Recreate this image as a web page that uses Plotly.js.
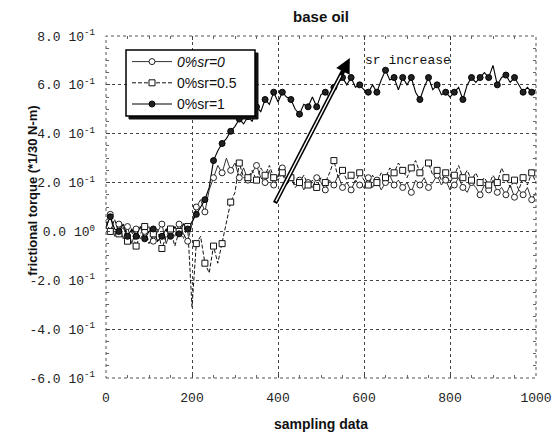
<!DOCTYPE html>
<html><head><meta charset="utf-8">
<script src="https://cdn.plot.ly/plotly-3.0.1.min.js"></script>
<style>html,body{margin:0;padding:0;background:#fff}#chart{width:556px;height:437px}</style>
</head><body><div id="chart"></div>
<script>
// sampling index (every 10th sample)
const sampleIdx = [0,10,20,30,40,50,60,70,80,90,100,110,120,130,140,150,160,170,180,190,200,
210,220,230,240,250,260,270,280,290,300,310,320,330,340,350,360,370,380,390,400,
410,420,430,440,450,460,470,480,490,500,510,520,530,540,550,560,570,580,590,600,
610,620,630,640,650,660,670,680,690,700,710,720,730,740,750,760,770,780,790,800,
810,820,830,840,850,860,870,880,890,900,910,920,930,940,950,960,970,980,990,1000];

// frictional torque values
const sr0 = [0.01,0.07,-0.02,0.03,-0.03,0.02,-0.05,0.01,-0.03,0.00,0.02,-0.04,0.00,0.03,-0.05,0.00,-0.02,0.03,-0.01,-0.04,0.03,
0.10,0.13,0.08,0.17,0.22,0.27,0.24,0.30,0.25,0.28,0.22,0.26,0.21,0.24,0.27,0.22,0.20,0.25,0.19,0.23,
0.26,0.20,0.22,0.19,0.21,0.17,0.20,0.18,0.22,0.20,0.17,0.21,0.19,0.23,0.18,0.20,0.17,0.21,0.19,0.18,
0.22,0.18,0.21,0.17,0.20,0.23,0.19,0.21,0.18,0.20,0.16,0.21,0.19,0.22,0.18,0.20,0.23,0.19,0.21,0.17,
0.19,0.22,0.18,0.16,0.20,0.18,0.15,0.19,0.17,0.21,0.16,0.18,0.15,0.19,0.14,0.17,0.15,0.18,0.13,0.16];

const sr05 = [0.04,0.00,0.05,-0.01,0.02,-0.04,0.00,-0.06,-0.01,0.02,-0.05,-0.01,0.01,-0.07,-0.02,0.01,-0.06,0.00,-0.03,0.02,-0.31,
-0.05,-0.02,-0.13,-0.17,-0.06,-0.13,-0.05,0.04,0.12,0.16,0.28,0.22,0.22,0.25,0.21,0.26,0.23,0.27,0.22,0.21,
0.24,0.19,0.22,0.18,0.20,0.23,0.19,0.21,0.18,0.22,0.20,0.24,0.29,0.22,0.25,0.21,0.23,0.20,0.24,0.21,
0.19,0.23,0.20,0.24,0.22,0.26,0.24,0.28,0.25,0.22,0.26,0.29,0.24,0.27,0.28,0.23,0.25,0.21,0.24,0.20,
0.23,0.27,0.22,0.25,0.21,0.24,0.20,0.22,0.19,0.23,0.20,0.26,0.22,0.18,0.21,0.17,0.22,0.19,0.24,0.20];

const sr1 = [0.02,0.06,0.01,0.00,0.03,-0.02,0.01,-0.02,0.02,-0.03,0.00,0.01,-0.04,-0.02,0.01,-0.02,0.02,-0.01,0.03,0.01,0.04,
0.07,0.10,0.13,0.18,0.29,0.33,0.36,0.38,0.41,0.43,0.46,0.44,0.47,0.45,0.51,0.49,0.54,0.52,0.57,0.53,
0.57,0.55,0.54,0.50,0.48,0.52,0.51,0.55,0.51,0.56,0.57,0.55,0.59,0.61,0.63,0.60,0.63,0.59,0.60,0.58,
0.57,0.60,0.57,0.62,0.66,0.62,0.63,0.58,0.63,0.60,0.63,0.57,0.54,0.59,0.63,0.58,0.60,0.56,0.57,0.55,
0.57,0.59,0.54,0.60,0.63,0.61,0.63,0.65,0.63,0.68,0.60,0.63,0.64,0.61,0.63,0.60,0.57,0.59,0.57,0.58];

const seriesNames = ['<i>0%sr=0</i>', '0%sr=0.5', '0%sr=1'];
const xTickVals = [0, 200, 400, 600, 800, 1000];
const xTickText = ['0', '200', '400', '600', '800', '1000'];
const yTickVals = [-0.6, -0.4, -0.2, 0, 0.2, 0.4, 0.6, 0.8];
const yTickText = ['-6.0 10<sup>-1</sup>', '-4.0 10<sup>-1</sup>', '-2.0 10<sup>-1</sup>', '0.0 10<sup>0</sup>',
                   '2.0 10<sup>-1</sup>', '4.0 10<sup>-1</sup>', '6.0 10<sup>-1</sup>', '8.0 10<sup>-1</sup>'];
const arrowTail = [393, 0.116];
const arrowTip = [567, 0.71];
const noteText = 'sr increase';

// markers are drawn on every other sample
const every2 = arr => arr.filter((_, i) => i % 2 === 1);
const mx = every2(sampleIdx);

const styles = [
  {line: {color: '#333', width: 1}, marker: {symbol: 'circle', size: 6, color: '#fff', line: {color: '#222', width: 1}}},
  {line: {color: '#111', width: 1, dash: '4px,2px'}, marker: {symbol: 'square', size: 6, color: '#fff', line: {color: '#111', width: 1}}},
  {line: {color: '#000', width: 1.1}, marker: {symbol: 'circle', size: 6, color: '#222', line: {color: '#000', width: 1}}}
];
const ys = [sr0, sr05, sr1];

const traces = [];
ys.forEach((y, k) => {
  traces.push({x: sampleIdx, y: y, type: 'scatter', mode: 'lines', line: styles[k].line, showlegend: false, hoverinfo: 'skip'});
});
ys.forEach((y, k) => {
  traces.push({x: mx, y: every2(y), type: 'scatter', mode: 'markers', marker: styles[k].marker, showlegend: false, hoverinfo: 'skip'});
});
ys.forEach((y, k) => {
  traces.push({x: [null], y: [null], type: 'scatter', mode: 'lines+markers', name: seriesNames[k],
               line: styles[k].line, marker: styles[k].marker, showlegend: true});
});

// arrow geometry helpers (head is placed a little back from the tip along the shaft)
const back = f => [arrowTip[0] - (arrowTip[0] - arrowTail[0]) * f, arrowTip[1] - (arrowTip[1] - arrowTail[1]) * f];
const shaftEnd = back(0.09);
const headStart = back(0.16);

// legend frame in pixels of the plot area (left 106, bottom 378, width 430, height 342)
const fx = p => (p - 106) / 430, fy = p => (378 - p) / 342;

const layout = {
  width: 556, height: 437,
  margin: {l: 106, r: 20, t: 36, b: 59, pad: 0},
  paper_bgcolor: '#fff', plot_bgcolor: '#fff',
  font: {family: 'Liberation Sans, Arial, sans-serif', color: '#111'},
  title: {text: '<b>base oil</b>', font: {size: 15, family: 'Liberation Sans, Arial, sans-serif', color: '#111'},
          x: 0.5, xref: 'paper', xanchor: 'center', y: 0.961, yanchor: 'middle'},
  xaxis: {
    range: [0, 1000], tickmode: 'array', tickvals: xTickVals, ticktext: xTickText,
    tickfont: {family: 'Liberation Mono, Courier New, monospace', size: 13, color: '#222'},
    showgrid: true, gridcolor: '#444', griddash: 'dot', gridwidth: 1,
    zeroline: false, showline: false, ticks: 'inside', ticklen: 4, tickcolor: '#444', mirror: 'ticks',
    minor: {ticks: 'inside', ticklen: 3, dtick: 50, tickcolor: '#666', showgrid: false},
    ticklabelstandoff: 10,
    title: {text: '<b>sampling data</b>', font: {size: 14, color: '#111'}, standoff: 14},
    fixedrange: true
  },
  yaxis: {
    range: [-0.6, 0.8], tickmode: 'array', tickvals: yTickVals, ticktext: yTickText,
    tickfont: {family: 'Liberation Mono, Courier New, monospace', size: 13, color: '#222'},
    showgrid: true, gridcolor: '#444', griddash: 'dot', gridwidth: 1,
    zeroline: false, showline: false, ticks: 'inside', ticklen: 4, tickcolor: '#444', mirror: 'ticks',
    minor: {ticks: 'inside', ticklen: 3, dtick: 0.05, tickcolor: '#666', showgrid: false},
    ticklabelstandoff: 10,
    fixedrange: true
  },
  showlegend: true,
  legend: {x: fx(127), y: fy(46), xanchor: 'left', yanchor: 'top', bgcolor: 'rgba(0,0,0,0)', borderwidth: 0,
           font: {size: 14, family: 'Liberation Sans, Arial, sans-serif', color: '#111'}, itemwidth: 40, tracegroupgap: 0},
  shapes: [
    {type: 'rect', xref: 'paper', yref: 'paper', x0: 0, x1: 1, y0: 0, y1: 1, layer: 'below',
     line: {color: '#555', width: 1, dash: 'dot'}},
    // legend frame with drop shadow
    {type: 'rect', xref: 'paper', yref: 'paper', x0: fx(129), x1: fx(258), y0: fy(119), y1: fy(53),
     layer: 'above', fillcolor: '#111', line: {color: '#111', width: 1}},
    {type: 'rect', xref: 'paper', yref: 'paper', x0: fx(126), x1: fx(255), y0: fy(116), y1: fy(50),
     layer: 'above', fillcolor: '#fff', line: {color: '#000', width: 1.5}},
    {type: 'line', xref: 'x', yref: 'y', x0: arrowTail[0], y0: arrowTail[1], x1: shaftEnd[0], y1: shaftEnd[1],
     line: {color: '#000', width: 4.5}},
    {type: 'line', xref: 'x', yref: 'y', x0: arrowTail[0] + 2, y0: arrowTail[1] + 0.007, x1: shaftEnd[0], y1: shaftEnd[1],
     line: {color: '#fff', width: 1.4}}
  ],
  annotations: [
    {x: arrowTip[0], y: arrowTip[1], xref: 'x', yref: 'y', ax: headStart[0], ay: headStart[1], axref: 'x', ayref: 'y',
     showarrow: true, arrowhead: 2, arrowsize: 1, arrowwidth: 3, arrowcolor: '#000', text: ' '},
    {x: 598, y: 0.70, xref: 'x', yref: 'y', text: noteText, showarrow: false, xanchor: 'left', yanchor: 'middle',
     font: {family: 'Liberation Mono, Courier New, monospace', size: 13, color: '#111'}},
    {x: -0.17, y: 0.547, xref: 'paper', yref: 'paper', text: '<b>frictional torque (*1/30 N-m)</b>', textangle: -90,
     showarrow: false, xanchor: 'center', yanchor: 'middle', font: {size: 13, color: '#111'}}
  ]
};

Plotly.newPlot('chart', traces, layout, {displayModeBar: false});
</script>
</body></html>
